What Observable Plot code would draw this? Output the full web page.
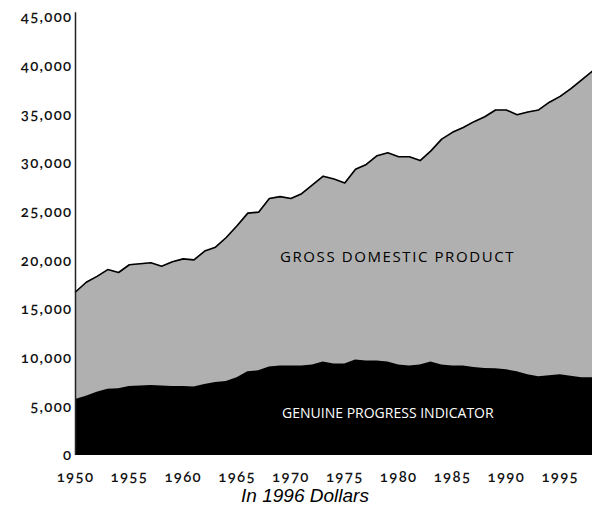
<!DOCTYPE html>
<html>
<head>
<meta charset="utf-8">
<script src="https://cdn.jsdelivr.net/npm/d3@7"></script>
<script src="https://cdn.jsdelivr.net/npm/@observablehq/plot@0.6"></script>
<style>
  html, body { margin: 0; padding: 0; background: #fff; }
  #chart svg { display: block; }
  #chart svg g[aria-label="y-axis tick label"] text,
  #chart svg g[aria-label="x-axis tick label"] text {
    letter-spacing: 1.3px; font-feature-settings: "onum" 1; font-variant-numeric: oldstyle-nums;
  }
  #caption {
    width: 592px; box-sizing: border-box; padding-left: 18px;
    text-align: center; font-family: "Liberation Sans", Arial, sans-serif;
    font-style: italic; font-size: 19px; color: #000; line-height: 19px; margin-top: 2px;
  }
</style>
</head>
<body>
<div id="chart"></div>
<div id="caption">In 1996 Dollars</div>
<script>
const years = [1950,1951,1952,1953,1954,1955,1956,1957,1958,1959,
               1960,1961,1962,1963,1964,1965,1966,1967,1968,1969,
               1970,1971,1972,1973,1974,1975,1976,1977,1978,1979,
               1980,1981,1982,1983,1984,1985,1986,1987,1988,1989,
               1990,1991,1992,1993,1994,1995,1996,1997,1998];
const gdp = [16800,17800,18400,19100,18800,19600,19700,19800,19450,19900,
             20200,20100,21000,21400,22400,23600,24900,25000,26400,26600,
             26400,26900,27800,28700,28400,28000,29400,29900,30800,31100,
             30700,30700,30300,31300,32500,33200,33700,34300,34800,35500,
             35500,35000,35300,35500,36300,36900,37700,38600,39500];
const gpi = [5750,6100,6500,6800,6850,7100,7150,7200,7150,7100,
             7100,7050,7300,7500,7600,8000,8600,8700,9100,9200,
             9200,9200,9300,9600,9400,9400,9800,9700,9700,9600,
             9300,9200,9300,9600,9300,9200,9200,9050,8950,8900,
             8800,8600,8300,8100,8200,8300,8150,8000,8000];
const yTicks = [0,5000,10000,15000,20000,25000,30000,35000,40000,45000];
const xTicks = [1950,1955,1960,1965,1970,1975,1980,1985,1990,1995];
const seriesLabels = [
  {text: "GROSS DOMESTIC PRODUCT", year: 1979.9, value: 20350, color: "#000", spacing: 1.6, size: 15},
  {text: "GENUINE PROGRESS INDICATOR", year: 1979.0, value: 4300, color: "#fff", spacing: 0, size: 14}
];

const rows = years.map((y, i) => ({year: y, gdp: gdp[i], gpi: gpi[i]}));
const tickFont = "Lato, Noto Sans, DejaVu Sans, sans-serif";

const chart = Plot.plot({
  width: 592,
  height: 484,
  marginLeft: 75,
  marginRight: 0,
  marginTop: 17,
  marginBottom: 29,
  style: {fontFamily: tickFont, fontSize: "15px", color: "#111", background: "#fff"},
  x: {domain: [1950, 1998]},
  y: {domain: [0, 45000]},
  marks: [
    Plot.areaY(rows, {x: "year", y: "gdp", fill: "#b0b0b0"}),
    Plot.lineY(rows, {x: "year", y: "gdp", stroke: "#000", strokeWidth: 1.6}),
    Plot.areaY(rows, {x: "year", y: "gpi", fill: "#000"}),
    Plot.ruleX([1950], {y1: 0, y2: 45500, stroke: "#222", strokeWidth: 1.5}),
    Plot.axisY({ticks: yTicks, tickSize: 0, tickPadding: 3, tickFormat: d3.format(","), label: null, fontSize: 15, fontWeight: 600}),
    Plot.axisX({ticks: xTicks, tickSize: 0, tickPadding: 16, tickFormat: d => String(d), label: null, fontSize: 15, fontWeight: 600}),
    Plot.text(seriesLabels, {x: "year", y: "value", text: "text", fill: "color",
      fontSize: "size", fontFamily: "Open Sans, Noto Sans, sans-serif", fontWeight: 500})
  ]
});
d3.select(chart).selectAll('g[aria-label="text"] text')
  .attr("letter-spacing", (d, i) => seriesLabels[i].spacing);
document.getElementById("chart").appendChild(chart);
</script>
</body>
</html>
